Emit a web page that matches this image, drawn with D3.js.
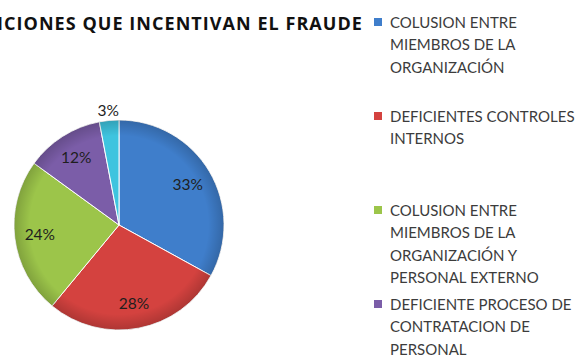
<!DOCTYPE html>
<html>
<head>
<meta charset="utf-8">
<script src="https://cdn.jsdelivr.net/npm/d3@7"></script>
<style>
  html, body { margin: 0; padding: 0; background: #fff; }
  svg { display: block; }
</style>
</head>
<body>
<svg id="chart" width="584" height="361"></svg>
<script>
const title = "CONDICIONES QUE INCENTIVAN EL FRAUDE";
const categories = [
  ["COLUSION ENTRE", "MIEMBROS DE LA", "ORGANIZACIÓN"],
  ["DEFICIENTES CONTROLES", "INTERNOS"],
  ["COLUSION ENTRE", "MIEMBROS DE LA", "ORGANIZACIÓN Y", "PERSONAL EXTERNO"],
  ["DEFICIENTE PROCESO DE", "CONTRATACION DE", "PERSONAL"],
  ["OTROS"]
];
const values = [33, 28, 24, 12, 3];
const colors = ["#3f7ecb", "#d4423f", "#9cc54a", "#7b5da8", "#3ec4df"];

const svg = d3.select("#chart");
const font = "Lato, 'Open Sans', sans-serif";

// Title, right-aligned beside the legend; it runs past the left edge
svg.append("text")
  .attr("x", 363).attr("y", 30)
  .attr("text-anchor", "end")
  .attr("font-family", "'Open Sans', sans-serif")
  .attr("font-weight", "bold")
  .attr("font-size", 18)
  .attr("letter-spacing", 1.05)
  .attr("fill", "#111")
  .text(title);

// Pie
const cx = 119, cy = 225, r = 105;
const pie = d3.pie().sort(null).value(d => d)(values);
const arc = d3.arc().innerRadius(0).outerRadius(r);
const color = d3.scaleOrdinal().domain(d3.range(values.length)).range(colors);

const defs = svg.append("defs");
const shade = defs.append("radialGradient").attr("id", "shade")
  .attr("gradientUnits", "userSpaceOnUse")
  .attr("cx", cx).attr("cy", cy).attr("r", r);
shade.append("stop").attr("offset", "0.85").attr("stop-color", "#000").attr("stop-opacity", 0);
shade.append("stop").attr("offset", "1").attr("stop-color", "#000").attr("stop-opacity", 0.18);

const g = svg.append("g").attr("transform", `translate(${cx},${cy})`);
g.selectAll("path.slice").data(pie).join("path")
  .attr("class", "slice")
  .attr("d", arc)
  .attr("fill", (d, i) => color(i))
  .attr("stroke", "#fff")
  .attr("stroke-width", 1);

svg.append("circle")
  .attr("cx", cx).attr("cy", cy).attr("r", r)
  .attr("fill", "url(#shade)");

// Percentage labels
const inner = d3.arc().innerRadius(r * 0.76).outerRadius(r * 0.76);
const outer = d3.arc().innerRadius(r + 10).outerRadius(r + 10);
g.selectAll("text.pct").data(pie).join("text")
  .attr("class", "pct")
  .attr("transform", d => `translate(${(d.data < 5 ? outer : inner).centroid(d)})`)
  .attr("text-anchor", "middle")
  .attr("dy", "0.35em")
  .attr("font-family", font)
  .attr("font-size", 15.5)
  .attr("fill", "#1e1e1e")
  .text(d => d.data + "%");

// Legend
const legendY = d3.scaleLinear().domain([0, 1]).range([22.5, 116.5]);
const lineH = 22.3;
const lg = svg.append("g");
categories.slice(0, 4).forEach((lines, i) => {
  const y0 = legendY(i);
  lg.append("rect")
    .attr("x", 374).attr("y", y0 - 4.5)
    .attr("width", 8).attr("height", 8)
    .attr("fill", colors[i]);
  const t = lg.append("text")
    .attr("font-family", font)
    .attr("font-size", 15)
    .attr("fill", "#3c3c3c");
  lines.forEach((ln, j) => {
    t.append("tspan")
      .attr("x", 390)
      .attr("y", y0 + j * lineH)
      .attr("dy", "0.36em")
      .text(ln);
  });
});
</script>
</body>
</html>
